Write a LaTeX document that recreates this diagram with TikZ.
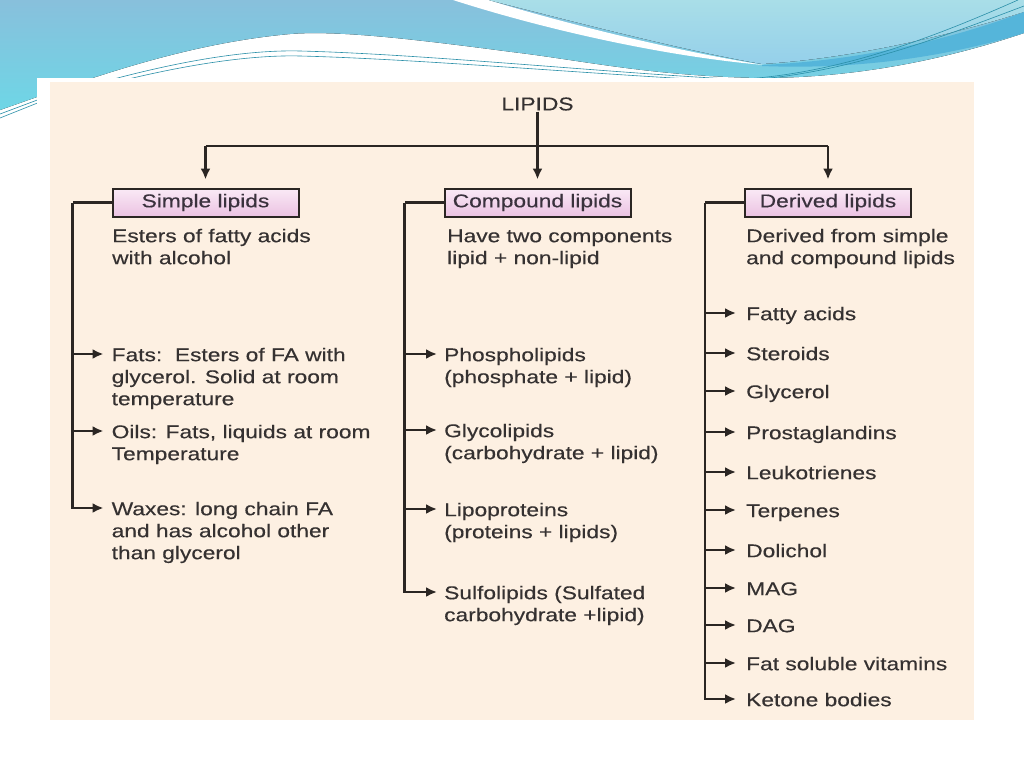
\documentclass[tikz,border=0pt]{standalone}
\usepackage{fontspec}
\setmainfont{Liberation Sans}[FakeStretch=1.23, FakeBold=0.35]
\usetikzlibrary{arrows.meta}
\definecolor{linec}{HTML}{2B2623}
\definecolor{txt}{HTML}{353131}
\definecolor{boxtxt}{HTML}{3A323D}
\definecolor{pinkT}{HTML}{FAEAF6}
\definecolor{pinkB}{HTML}{EBC2E2}
\definecolor{beige}{HTML}{FDF0E2}
\definecolor{blueTop}{HTML}{88C0DC}
\definecolor{blueBot}{HTML}{6ED6E6}
\definecolor{lightcyan}{HTML}{A9DEE8}
\definecolor{lightcyanB}{HTML}{95D0EA}
\definecolor{swoosh}{HTML}{55B5DA}
\definecolor{thinline}{HTML}{2A8FA8}
\newcommand\myfs{\fontsize{18.5}{22}\selectfont}
\newcommand\mystrut{\rule{0pt}{14pt}}
\begin{document}
\begin{tikzpicture}[x=1pt,y=-1pt,
  cat/.style={draw=linec, line width=2pt, top color=pinkT, bottom color=pinkB,
    minimum width=186pt, minimum height=28pt, inner sep=0pt, font=\myfs, text=boxtxt},
  item/.style={anchor=north west, inner sep=0pt, align=left, font=\myfs, text=txt},
  conn/.style={draw=linec, line width=2.4pt},
  arr/.style={conn, -{Latex[length=11pt,width=10pt]}}]
\useasboundingbox (0,0) rectangle (1024,768);
% slide background
\fill[white] (0,0) rectangle (1024,768);
% blue banner
\fill[top color=blueTop, bottom color=blueBot]
  (0,0) -- (1024,0) -- (1024,33) .. controls (950,58) and (860,78) .. (760,78)
  .. controls (650,76) and (580,60) .. (512,52)
  .. controls (420,40) and (340,30) .. (290,34)
  .. controls (180,44) and (80,82) .. (0,110) -- cycle;
\fill[top color=lightcyan, bottom color=lightcyanB]
  (488,0) .. controls (560,18) and (680,50) .. (762,64)
  .. controls (860,58) and (960,32) .. (1024,12) -- (1024,0) -- cycle;
\fill[white]
  (453,0) .. controls (540,28) and (660,56) .. (764,65)
  .. controls (670,50) and (560,22) .. (488,0) -- cycle;
\fill[swoosh]
  (762,65) .. controls (870,60) and (960,36) .. (1024,12) -- (1024,33)
  .. controls (950,56) and (860,70) .. (762,66) -- cycle;
% thin lines
\draw[thinline, line width=0.6pt] (110,80) .. controls (200,56) and (260,50) .. (300,51) .. controls (420,54) and (600,72) .. (730,79);
\draw[thinline, line width=0.6pt] (112,83) .. controls (200,61) and (260,55) .. (300,56) .. controls (420,59) and (600,75) .. (730,81);
\draw[thinline, line width=0.6pt] (745,79) .. controls (850,72) and (950,30) .. (1018,0);
\draw[thinline, line width=0.6pt] (760,79) .. controls (860,70) and (960,30) .. (1024,6);
\draw[thinline, line width=0.6pt] (0,114) -- (40,99);
\draw[thinline, line width=0.6pt] (0,118) -- (40,102);
% panel
\fill[white] (37,78) rectangle (988,730);
\fill[beige] (50,82) rectangle (974,720);

% nodes
\node[font=\myfs, text=txt, inner sep=1pt] (lipids) at (537.5,104) {LIPIDS};
\node[cat] (simple) at (205.5,202.5) {Simple lipids};
\node[cat] (compound) at (537.5,202.5) {Compound lipids};
\node[cat, minimum width=166pt] (derived) at (828,202.5) {Derived lipids};

\node[item] (dS) at (112,228) {\mystrut Esters of fatty acids\\with alcohol};
\node[item] (dC) at (447,228) {\mystrut Have two components\\lipid + non-lipid};
\node[item] (dD) at (746,228) {\mystrut Derived from simple\\and compound lipids};

\node[item] (fats) at (111.5,347) {\mystrut Fats:\ \ Esters of FA with\\glycerol. Solid at room\\temperature};
\node[item] (oils) at (111.5,424) {\mystrut Oils: Fats, liquids at room\\Temperature};
\node[item] (waxes) at (111.5,501) {\mystrut Waxes: long chain FA\\and has alcohol other\\than glycerol};

\node[item] (phos) at (444,347) {\mystrut Phospholipids\\(phosphate + lipid)};
\node[item] (glyco) at (444,423) {\mystrut Glycolipids\\(carbohydrate + lipid)};
\node[item] (lipo) at (444,502) {\mystrut Lipoproteins\\(proteins + lipids)};
\node[item] (sulfo) at (444,585) {\mystrut Sulfolipids (Sulfated\\carbohydrate +lipid)};

\node[item] (fa) at (746,306) {\mystrut Fatty acids};
\node[item] (ster) at (746,346) {\mystrut Steroids};
\node[item] (glyc) at (746,384) {\mystrut Glycerol};
\node[item] (prost) at (746,425) {\mystrut Prostaglandins};
\node[item] (leuk) at (746,465) {\mystrut Leukotrienes};
\node[item] (terp) at (746,503) {\mystrut Terpenes};
\node[item] (doli) at (746,543) {\mystrut Dolichol};
\node[item] (mag) at (746,581) {\mystrut MAG};
\node[item] (dag) at (746,618) {\mystrut DAG};
\node[item] (fsv) at (746,656) {\mystrut Fat soluble vitamins};
\node[item] (ket) at (746,692) {\mystrut Ketone bodies};

% top connectors
\coordinate (jL) at (205.5,146);
\coordinate (jR) at (828,146);
\draw[conn] (jL) -- (jR);
\draw[arr, shorten >=8pt] (lipids.south) -- (compound.north);
\draw[arr, shorten >=8pt] (jL) -- (simple.north);
\draw[arr, shorten >=8pt] (jR) -- (derived.north);

% brackets
\coordinate (bL) at (72.5,202.5);
\coordinate (bM) at (404.5,202.5);
\coordinate (bR) at (705,202.5);
\draw[conn] (simple.west) -- (bL);
\draw[conn] (compound.west) -- (bM);
\draw[conn] (derived.west) -- (bR);
\foreach \n in {fats,oils,waxes}
  \draw[arr] (bL) |- ([xshift=-8pt,yshift=-7pt]\n.north west);
\foreach \n in {phos,glyco,lipo,sulfo}
  \draw[arr] (bM) |- ([xshift=-7pt,yshift=-7pt]\n.north west);
\foreach \n in {fa,ster,glyc,prost,leuk,terp,doli,mag,dag,fsv,ket}
  \draw[arr] (bR) |- ([xshift=-10pt,yshift=-7pt]\n.north west);
\end{tikzpicture}
\end{document}
